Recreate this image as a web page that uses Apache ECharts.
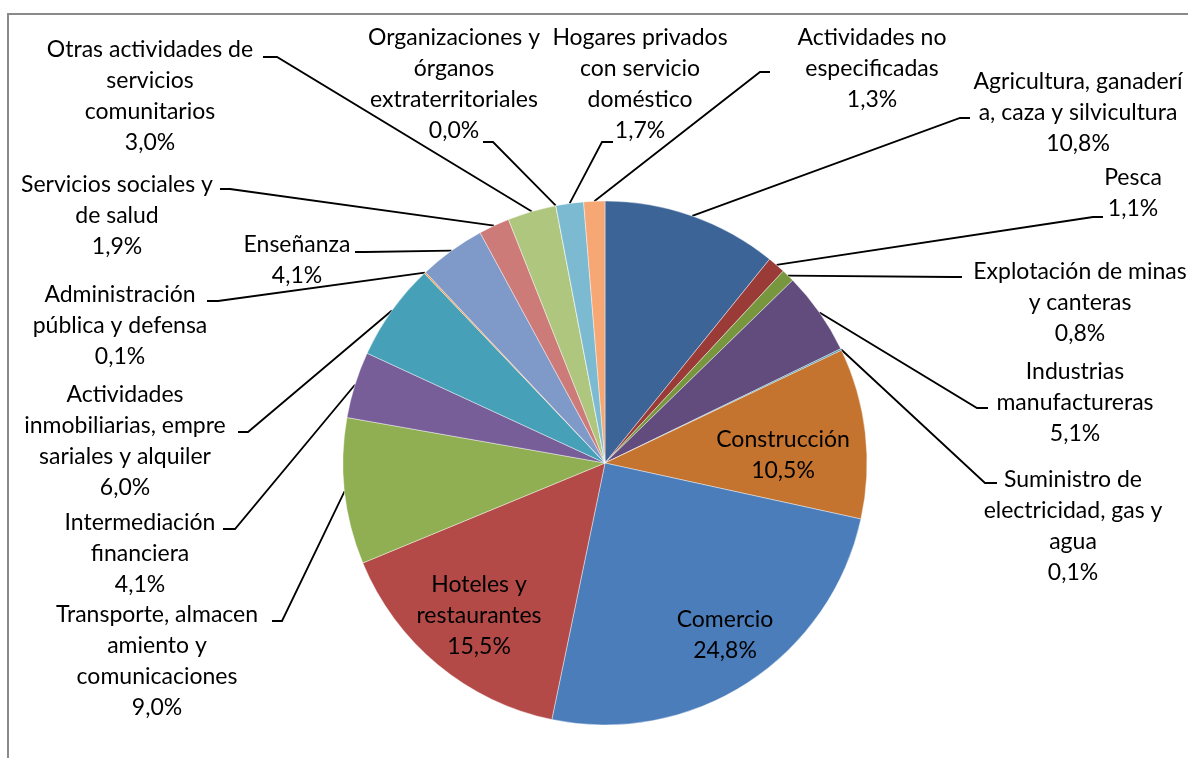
<!DOCTYPE html>
<html>
<head>
<meta charset="utf-8">
<script src="https://cdn.jsdelivr.net/npm/echarts@6/dist/echarts.min.js"></script>
<style>
html, body { margin: 0; padding: 0; background: #fff; }
#chart { width: 1188px; height: 758px; }
</style>
</head>
<body>
<div id="chart"></div>
<script>
var categories = [
    'Agricultura, ganadería, caza y silvicultura',
    'Pesca',
    'Explotación de minas y canteras',
    'Industrias manufactureras',
    'Suministro de electricidad, gas y agua',
    'Construcción',
    'Comercio',
    'Hoteles y restaurantes',
    'Transporte, almacenamiento y comunicaciones',
    'Intermediación financiera',
    'Actividades inmobiliarias, empresariales y alquiler',
    'Administración pública y defensa',
    'Enseñanza',
    'Servicios sociales y de salud',
    'Otras actividades de servicios comunitarios',
    'Organizaciones y órganos extraterritoriales',
    'Hogares privados con servicio doméstico',
    'Actividades no especificadas'
];
// label text as wrapped in the original
var labelTexts = [
    'Agricultura, ganaderí\na, caza y silvicultura',
    'Pesca',
    'Explotación de minas\ny canteras',
    'Industrias\nmanufactureras',
    'Suministro de\nelectricidad, gas y\nagua',
    'Construcción',
    'Comercio',
    'Hoteles y\nrestaurantes',
    'Transporte, almacen\namiento y\ncomunicaciones',
    'Intermediación\nfinanciera',
    'Actividades\ninmobiliarias, empre\nsariales y alquiler',
    'Administración\npública y defensa',
    'Enseñanza',
    'Servicios sociales y\nde salud',
    'Otras actividades de\nservicios\ncomunitarios',
    'Organizaciones y\nórganos\nextraterritoriales',
    'Hogares privados\ncon servicio\ndoméstico',
    'Actividades no\nespecificadas'
];
var values = [10.8, 1.1, 0.8, 5.1, 0.1, 10.5, 24.8, 15.5, 9.0, 4.1, 6.0, 0.1, 4.1, 1.9, 3.0, 0.0, 1.7, 1.3];

var colors = ['#3C6497', '#9A3B38', '#77963E', '#624C7D', '#3A93AD', '#C4742F', '#4A7DBA', '#B44A47',
    '#8FAF52', '#785E99', '#46A0B8', '#F39545', '#7F9AC9', '#CD7B79', '#AFC67E', '#9D8BB5', '#7BBAD0', '#F6A774'];

var insideLabels = [5, 6, 7];

// label placement: centre x, first line y, then knee x/y and end x/y of the leader
var labelPos = [
    [1078, 82, 960, 118, 970, 118],
    [1133, 178, 1093, 217, 1103, 217],
    [1080, 272, 952, 277, 962, 277],
    [1075, 372, 977, 408, 988, 408],
    [1073, 480, 985, 483, 997, 483],
    [783, 440],
    [725, 620],
    [479, 585],
    [157, 615, 282, 621, 272, 621],
    [140, 523, 235, 529, 223, 529],
    [125, 395, 248, 432, 238, 432],
    [120, 295, 218, 301, 207, 301],
    [297, 245, 365, 252, 355, 252],
    [117, 185, 230, 189, 220, 189],
    [150, 50, 277, 57, 263, 57],
    [454, 38, 493, 142, 483, 142],
    [640, 38, 602, 142, 613, 142],
    [872, 38, 760, 72, 770, 72]
];

var LH = 31;

var chart = echarts.init(document.getElementById('chart'));

var seriesData = categories.map(function (name, i) {
    var item = { name: name, value: values[i], itemStyle: { color: colors[i] } };
    if (insideLabels.indexOf(i) >= 0) {
        item.label = { position: 'inside' };
        item.labelLine = { show: false };
    }
    return item;
});

var option = {
    animation: false,
    graphic: [{
        type: 'rect',
        shape: { x: 8, y: 14, width: 1400, height: 1000 },
        style: { fill: 'none', stroke: '#8A8A8A', lineWidth: 2 },
        silent: true
    }],
    series: [{
        type: 'pie',
        center: [605, 463],
        radius: 262,
        startAngle: 90,
        clockwise: true,
        avoidLabelOverlap: false,
        data: seriesData,
        itemStyle: { borderColor: 'rgba(255,255,255,0.7)', borderWidth: 0.6 },
        label: {
            show: true,
            position: 'outside',
            color: '#000',
            fontFamily: 'Lato',
            fontSize: 23,
            lineHeight: LH,
            align: 'center',
            formatter: function (p) {
                return labelTexts[p.dataIndex] + '\n' + p.value.toFixed(1).replace('.', ',') + '%';
            }
        },
        labelLine: {
            show: true,
            lineStyle: { color: '#000', width: 1.8 }
        },
        labelLayout: function (params) {
            var lp = labelPos[params.dataIndex];
            var out = { x: lp[0], y: lp[1] - LH / 2, align: 'center', verticalAlign: 'top' };
            if (lp.length > 2 && params.labelLinePoints) {
                out.labelLinePoints = [params.labelLinePoints[0], [lp[2], lp[3]], [lp[4], lp[5]]];
            }
            return out;
        }
    }]
};

chart.setOption(option);
</script>
</body>
</html>
